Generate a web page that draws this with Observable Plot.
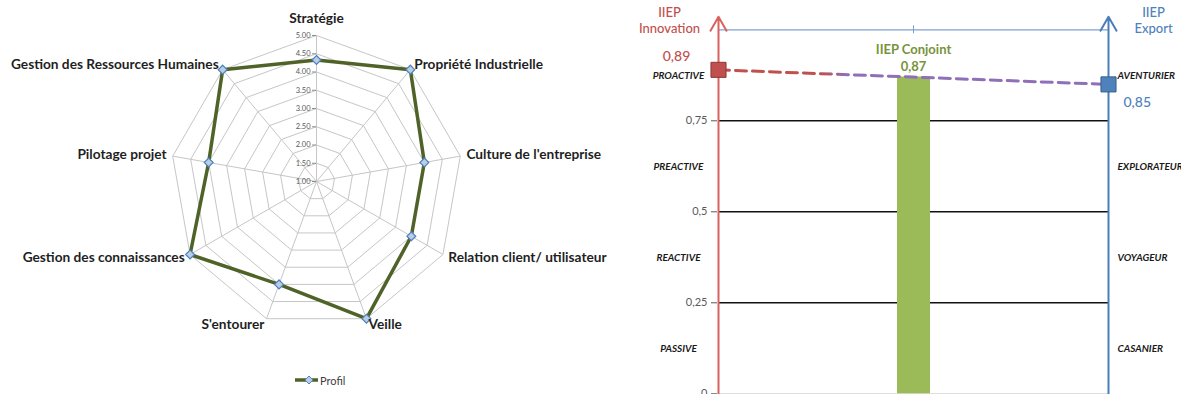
<!DOCTYPE html>
<html><head><meta charset="utf-8">
<script src="https://cdn.jsdelivr.net/npm/d3@7"></script>
<script src="https://cdn.jsdelivr.net/npm/@observablehq/plot@0.6"></script>
<style>
body{margin:0;background:#fff;font-family:Lato,"Open Sans",sans-serif;}
#wrap{display:flex;width:1181px;height:394px;overflow:hidden;}
#left{width:610px;height:394px;position:relative;flex:none;}
#right{width:571px;height:394px;flex:none;}
#legend{position:absolute;left:290px;top:370px;height:20px;display:flex;align-items:center;font:11px Lato,sans-serif;color:#404040;}
svg{display:block}
</style></head><body>
<div id="wrap"><div id="left"></div><div id="right"></div></div>
<script>
// ---- Radar data ----
const axes = ["Stratégie","Propriété Industrielle","Culture de l'entreprise","Relation client/ utilisateur","Veille","S'entourer","Gestion des connaissances","Pilotage projet","Gestion des Ressources Humaines"];
const profil = [4.33, 5.00, 4.00, 4.00, 5.00, 4.00, 5.00, 4.00, 5.00];
const radialTicks = [1.00, 1.50, 2.00, 2.50, 3.00, 3.50, 4.00, 4.50, 5.00];
const seriesName = "Profil";

// ---- IIEP data ----
const iiepKeys = ["Innovation", "Conjoint", "Export"];
const iiepNames = ["IIEP Innovation", "IIEP Conjoint", "IIEP Export"];
const iiepValues = [0.89, 0.87, 0.85];
const levelTicks = [0, 0.25, 0.5, 0.75];
const innovationLevels = ["PASSIVE", "REACTIVE", "PREACTIVE", "PROACTIVE"];
const exportLevels = ["CASANIER", "VOYAGEUR", "EXPLORATEUR", "AVENTURIER"];

// ---------- Radar ----------
const rMin = radialTicks[0], rMax = radialTicks[radialTicks.length - 1];
const n = axes.length;
const ang = i => 2 * Math.PI * i / n;
const px = (v, i) => (v - rMin) * Math.sin(ang(i));
const py = (v, i) => (v - rMin) * Math.cos(ang(i));
const span = rMax - rMin;

const rings = radialTicks.slice(1).flatMap(t => [...axes.map((a, i) => ({t, i})), {t, i: 0}]);
const spokes = axes.map((a, i) => ({a, i}));
const profPts = profil.map((v, i) => ({v, i}));
const profLoop = [...profPts, profPts[0]];
const lblR = rMax + 0.17;
const labels = axes.map((a, i) => ({a, i, s: Math.sin(ang(i))}));
const gridColor = "#c6c6c6";
const labelFont = {fontSize: 13.7, fontWeight: 700, fill: "#1f1f1f", fontFamily: "Lato, sans-serif"};

const radar = Plot.plot({
  width: 610, height: 368, margin: 0,
  x: {domain: [-span, span], range: [170, 462], axis: null},
  y: {domain: [-span, span], range: [327, 35], axis: null},
  marks: [
    Plot.line(rings, {x: d => px(d.t, d.i), y: d => py(d.t, d.i), z: "t", stroke: gridColor, strokeWidth: 1}),
    Plot.link(spokes, {x1: 0, y1: 0, x2: d => px(rMax, d.i), y2: d => py(rMax, d.i), stroke: gridColor, strokeWidth: 1}),
    Plot.ruleY(radialTicks, {y: d => d - rMin, x1: 0, x2: 0, insetLeft: -4, stroke: "#8c8c8c"}),
    Plot.text(radialTicks, {x: 0, y: d => d - rMin, text: d => d.toFixed(2), textAnchor: "end", dx: -6, fontSize: 7.5, fill: "#595959", fontFamily: "Lato, sans-serif"}),
    Plot.line(profLoop, {x: d => px(d.v, d.i), y: d => py(d.v, d.i), stroke: "#4f6228", strokeWidth: 3.5, strokeLinejoin: "miter"}),
    Plot.dot(profPts, {x: d => px(d.v, d.i), y: d => py(d.v, d.i), symbol: "diamond2", r: 4, fill: "#b9cde5", stroke: "#4f81bd", strokeWidth: 1.2}),
    Plot.text(labels.filter(d => d.s > 0.01), {x: d => px(lblR, d.i), y: d => py(lblR, d.i), text: "a", textAnchor: "start", ...labelFont}),
    Plot.text(labels.filter(d => d.s < -0.01), {x: d => px(lblR, d.i), y: d => py(lblR, d.i), text: "a", textAnchor: "end", ...labelFont}),
    Plot.text(labels.filter(d => Math.abs(d.s) <= 0.01), {x: d => px(lblR, d.i), y: d => py(lblR, d.i), text: "a", textAnchor: "middle", dy: -11, ...labelFont})
  ]
});
document.getElementById("left").appendChild(radar);

const legend = document.createElement("div");
legend.id = "legend";
legend.innerHTML = `<svg width="30" height="12"><line x1="5" y1="6" x2="28" y2="6" stroke="#4f6228" stroke-width="3.5"/><path d="M19,2 L23,6 L19,10 L15,6 Z" fill="#b9cde5" stroke="#4f81bd" stroke-width="1"/></svg><span>${seriesName}</span>`;
document.getElementById("left").appendChild(legend);

// ---------- IIEP chart ----------
const iiep = iiepKeys.map((k, i) => ({k, name: iiepNames[i], v: iiepValues[i]}));
const fmt = v => String(v).replace(".", ",");
const mids = levelTicks.map((t, i) => (t + (i + 1 < levelTicks.length ? levelTicks[i + 1] : 1)) / 2);
const first = iiepKeys[0], mid = iiepKeys[1], last = iiepKeys[2];
const red = "#c0504d", blue = "#4f81bd", green = "#9bbb59", dgreen = "#77933c";
const levelFont = {fontSize: 10, fontWeight: "bold", fontStyle: "italic", fill: "#1a1a1a", fontFamily: "Lato, sans-serif"};
const titleFont = {fontSize: 13, fontWeight: 500, fontFamily: "Lato, sans-serif", lineHeight: 1.25};
const boldTitle = {...titleFont, fontWeight: 700};
const X1 = () => first, X2 = () => last;

const right = Plot.plot({
  width: 571, height: 394, marginLeft: 107, marginRight: 73, marginTop: 0, marginBottom: 0,
  x: {type: "point", domain: iiepKeys, range: [107, 498], padding: 0, axis: null},
  y: {domain: [0, 1], range: [393.3, 29.3], axis: null},
  marks: [
    Plot.ruleY([0], {x1: X1, x2: X2, stroke: "#d0d0d0"}),
    Plot.ruleY(levelTicks.slice(1), {x1: X1, x2: X2, stroke: "#111", strokeWidth: 1.6}),
    Plot.ruleY([1], {x1: X1, x2: X2, stroke: "#7f9fd0", strokeWidth: 1.2}),
    Plot.ruleX([mid], {y1: 1, y2: 1, insetTop: -4, insetBottom: -4, stroke: "#7f9fd0"}),
    Plot.ruleX(iiep.filter(d => d.k === mid), {x: "k", y1: 0, y2: "v", stroke: green, strokeWidth: 33}),
    Plot.axisY(levelTicks, {anchor: "left", label: null, tickFormat: fmt, tickSize: 6, tickPadding: 4, fontSize: 11, color: "#595959", fontFamily: "Lato, sans-serif"}),
    Plot.arrow([first], {x1: d => d, x2: d => d, y1: 0, y2: 1, insetEnd: -13, stroke: "#d9625e", strokeWidth: 2, headLength: 12}),
    Plot.arrow([last], {x1: d => d, x2: d => d, y1: 0, y2: 1, insetEnd: -13, stroke: "#4a7ebb", strokeWidth: 2, headLength: 12}),
    Plot.line(iiep, {x: "k", y: "v", stroke: "url(#iiepGrad)", strokeWidth: 3, strokeDasharray: "11,6"}),
    Plot.dot(iiep.filter(d => d.k === first), {x: "k", y: "v", symbol: "square", r: 8.5, fill: red, stroke: "#8c3836", strokeWidth: 1}),
    Plot.dot(iiep.filter(d => d.k === last), {x: "k", y: "v", symbol: "square", r: 8.5, fill: blue, stroke: "#385d8a", strokeWidth: 1}),
    // titles
    Plot.text(iiep.filter(d => d.k === first), {x: "k", frameAnchor: "top", lineAnchor: "top", dy: 5, dx: -49, text: d => d.name.replace(" ", "\n"), fill: red, ...titleFont}),
    Plot.text(iiep.filter(d => d.k === last), {x: "k", frameAnchor: "top", lineAnchor: "top", dy: 5, dx: 45, text: d => d.name.replace(" ", "\n"), fill: blue, ...titleFont}),
    Plot.text(iiep.filter(d => d.k === mid), {x: "k", y: "v", dy: -28, text: "name", fill: dgreen, ...boldTitle}),
    // values
    Plot.text(iiep.filter(d => d.k === first), {x: "k", y: "v", dy: -14, dx: -42, text: d => fmt(d.v), fill: red, ...titleFont, fontSize: 14}),
    Plot.text(iiep.filter(d => d.k === mid), {x: "k", y: "v", dy: -11, text: d => fmt(d.v), fill: dgreen, ...boldTitle}),
    Plot.text(iiep.filter(d => d.k === last), {x: "k", y: "v", dy: 17, dx: 15, textAnchor: "start", text: d => fmt(d.v), fill: blue, ...titleFont, fontSize: 14}),
    // level labels
    Plot.text(innovationLevels, {x: X1, y: (d, i) => mids[i], dx: -40, textAnchor: "middle", ...levelFont}),
    Plot.text(exportLevels, {x: X2, y: (d, i) => mids[i], dx: 9, textAnchor: "start", ...levelFont})
  ]
});
const defs = d3.select(right).insert("defs", ":first-child");
const grad = defs.append("linearGradient").attr("id", "iiepGrad").attr("x1", "0").attr("x2", "1").attr("y1", "0").attr("y2", "0");
grad.append("stop").attr("offset", "0.26").attr("stop-color", red);
grad.append("stop").attr("offset", "0.33").attr("stop-color", "#8f6fb8");
document.getElementById("right").appendChild(right);
</script>
</body></html>
